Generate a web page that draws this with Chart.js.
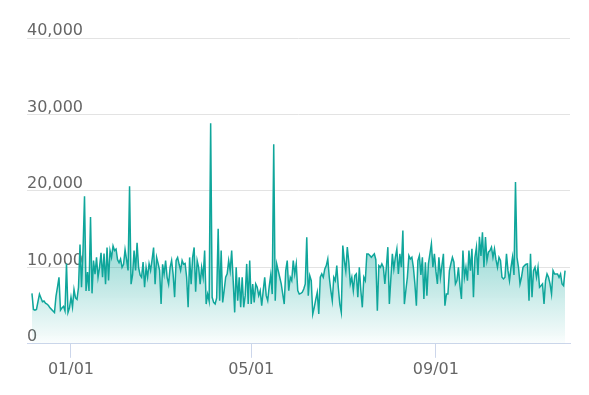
<!DOCTYPE html>
<html>
<head>
<meta charset="utf-8">
<script src="https://cdn.jsdelivr.net/npm/chart.js@4"></script>
<style>
  body { margin: 0; background: #fff; }
  canvas { display: block; }
</style>
</head>
<body>
<canvas id="dailyChart" width="589" height="395"></canvas>
<script>
// daily values, 12/06 to 11/26
const startDate = "2018-12-06";
const dailyValues = [
  6600, 4500, 4400, 4500, 5500, 6500, 6000, 5500, 5600, 5300,
  5200, 5000, 4700, 4500, 4300, 4100, 6200, 7400, 8700, 4400,
  4700, 4900, 4300, 10500, 4100, 4700, 6100, 4800, 7100, 6000,
  5800, 7400, 13000, 7400, 12200, 19300, 6900, 9400, 6900, 16600,
  6600, 10900, 9100, 11300, 8700, 10000, 11900, 8700, 11800, 7800,
  12600, 8300, 12200, 11300, 12800, 12200, 12400, 11000, 10600, 11100,
  10000, 10400, 12300, 11000, 9600, 20600,
  7800, 9000, 12200, 9600, 13200, 10000, 9000, 8700, 10700, 7400,
  10000, 8700, 10500, 9600, 11000, 12600, 7800, 11300, 10500, 9600,
  5200, 10400, 9100, 10900, 8700, 7800, 10000, 10900, 9100, 6100,
  10900, 11300, 10400, 9600, 10900, 10400, 10500, 8700, 4800, 11300,
  7800, 11300, 12600, 6800, 10900, 10000, 7800, 10000, 8700, 12200,
  5200, 6500, 5600,
  28850, 6080, 5420, 5200, 6000, 15040, 5640, 12200, 5420, 7000,
  8700, 9140, 10890, 9570, 12200, 8260, 4110, 10010, 5640, 8700,
  4770, 8700, 4770, 6300, 10450, 5200, 10890, 5200, 7830, 5420,
  7830, 7390, 6300, 6950, 4980, 6950, 8700, 6300, 5640, 7500,
  9000, 6500, 26100,
  5640, 10450, 9570, 8700, 7830, 6500, 5200, 9570, 10890, 6950,
  8700, 8260, 10890, 9140, 10450, 6950, 6510, 6600, 6730, 7170,
  7830, 13950, 6300, 8920, 8260, 3890, 4770, 5800, 6730, 3890,
  8700, 9140, 8700, 9790, 10230, 11100, 8700, 7000, 5640, 8700,
  8260, 10230, 7390, 5200, 4110, 12850, 10890, 9500, 12640, 10670,
  7830, 8700, 6950, 8920, 9140, 6080, 10010, 7000, 4770, 8700,
  8260, 11760, 11760, 11540, 11320, 11540, 11760, 11000, 4330, 10230,
  10010, 10450, 10010, 7830, 10010, 12640, 5200,
  8500, 11760, 9790, 11320, 12420, 9140, 11760, 10010, 14820, 5200,
  7000, 8700, 11540, 11100, 11320, 10010, 7830, 4980, 10890, 11540,
  9000, 11320, 5860, 10670, 6300, 10450, 11760, 13070, 10010, 11760,
  9500, 7830, 11320, 8700, 10230, 11760, 4980, 6510, 6510, 9570,
  10500, 11320, 10670, 7830, 8260, 10010, 7610, 5860, 12200, 8700,
  10000, 8260, 12200, 9570, 12420, 6080, 11320, 12640, 9000, 14000,
  11500, 14600, 10010, 13950, 10890, 11980, 12200, 12640, 11320, 12420,
  11000, 10010, 11320, 10890, 8700, 8480, 8700, 11760, 9570, 8260,
  10000, 11320, 9000, 21160, 11320, 10010, 7830, 8700, 10010, 10230,
  10400, 10450, 5640, 11760, 6080, 9570, 10010, 8700, 10010, 7390,
  7600, 7830, 5200, 8260, 9140, 8700, 7830, 6510, 9570, 9140,
  9140, 9140, 8700, 9140, 7830, 7610, 9570
];
const xTickLabels = ["01/01", "05/01", "09/01"];
const yMax = 40000;
const yStep = 10000;

const dates = [];
const d0 = new Date(startDate + "T00:00:00Z");
for (let i = 0; i < dailyValues.length; i++) {
  const d = new Date(d0.getTime() + i * 86400000);
  const mm = String(d.getUTCMonth() + 1).padStart(2, "0");
  const dd = String(d.getUTCDate()).padStart(2, "0");
  dates.push(mm + "/" + dd);
}

const points = dailyValues.map((v, i) => ({ x: i, y: v }));

Chart.defaults.font.family = "'DejaVu Sans', sans-serif";
Chart.defaults.font.size = 16;
Chart.defaults.color = "#666666";

function areaFill(context) {
  const chart = context.chart;
  const area = chart.chartArea;
  if (!area) return "rgba(10,165,154,0.3)";
  const top = chart.scales.y.getPixelForValue(13000);
  const g = chart.ctx.createLinearGradient(0, top, 0, area.bottom);
  g.addColorStop(0, "rgba(10,165,154,0.42)");
  g.addColorStop(1, "rgba(10,165,154,0.02)");
  return g;
}

const ctx = document.getElementById("dailyChart").getContext("2d");
new Chart(ctx, {
  type: "line",
  data: {
    datasets: [{
      data: points,
      borderColor: "#0fa69b",
      borderWidth: 1.5,
      backgroundColor: areaFill,
      fill: "origin",
      pointRadius: 0,
      tension: 0
    }]
  },
  options: {
    responsive: false,
    animation: false,
    layout: { padding: { left: 27, right: 19, top: 38, bottom: 14 } },
    plugins: {
      legend: { display: false },
      tooltip: { enabled: false }
    },
    scales: {
      x: {
        type: "linear",
        min: -3.3,
        max: dailyValues.length - 1 + 3.3,
        afterBuildTicks: axis => {
          axis.ticks = xTickLabels.map(l => ({ value: dates.indexOf(l) }));
        },
        ticks: {
          autoSkip: false,
          maxRotation: 0,
          padding: 2,
          callback: v => dates[v]
        },
        grid: {
          drawOnChartArea: false,
          tickLength: 14,
          tickColor: "#ccd6eb"
        },
        border: { color: "#ccd6eb", width: 1 }
      },
      y: {
        min: 0,
        max: yMax,
        ticks: {
          stepSize: yStep,
          mirror: true,
          padding: 0,
          labelOffset: -7,
          callback: v => v.toLocaleString("en-US")
        },
        grid: {
          drawTicks: false,
          color: c => (c.tick && c.tick.value === 0 ? "rgba(0,0,0,0)" : "#e3e3e3")
        },
        border: { display: false }
      }
    }
  }
});
</script>
</body>
</html>
